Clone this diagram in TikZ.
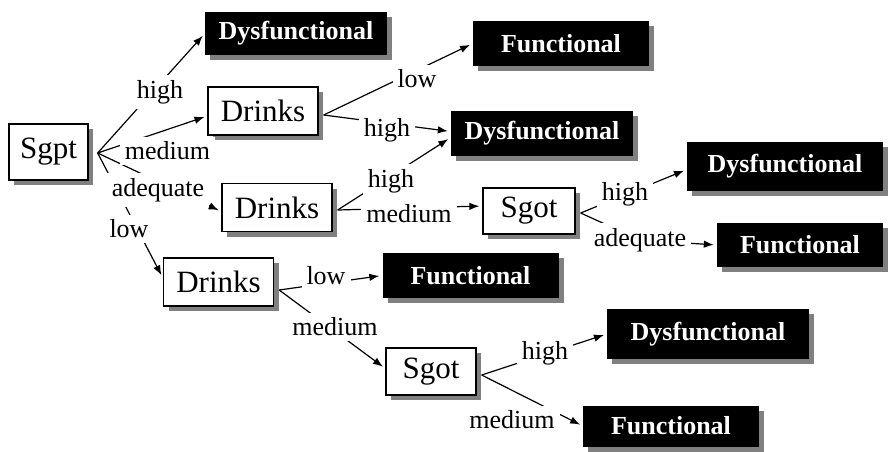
\documentclass[tikz,border=0pt]{standalone}
\usepackage{fontspec}
\setmainfont{Liberation Serif}
\newfontfamily\treefont{Liberation Serif}
\usepackage{tikz}
\usetikzlibrary{shadows, arrows.meta}
\pgfdeclarelayer{back}
\pgfsetlayers{back,main}

\begin{document}
\begin{tikzpicture}[x = 1pt, y = -1pt,
    boxshadow/.style = {drop shadow = {shadow xshift = 5pt, shadow yshift = -5pt, fill = black!50, opacity = 1}},
    attr/.style = {draw, line width = 1.3pt, fill = white, minimum width = 110pt, minimum height = 48pt, inner sep = 0pt, font = \treefont\fontsize{31}{36}\selectfont, boxshadow},
    leaf/.style = {fill = black, text = white, minimum height = 45pt, inner sep = 0pt, font = \treefont\bfseries\fontsize{26}{30}\selectfont, boxshadow},
    dys/.style = {leaf, minimum width = 182pt},
    fun/.style = {leaf, minimum width = 176pt},
    val/.style = {fill = white, inner sep = 5pt, font = \treefont\fontsize{26}{30}\selectfont},
    branch/.style = {line width = 1.2pt, -{Latex[length = 10pt, width = 7.5pt]}, shorten >= 3pt}]
            \useasboundingbox (0,0) rectangle (888,451);
            \node[attr, minimum width = 79pt, minimum height = 56pt] (sgpt) at (48.5,152) {Sgpt};
            \node[dys, minimum height = 43pt] (dys1) at (296,33.5) {Dysfunctional};
            \node[attr] (drk1) at (263,111) {Drinks};
            \node[attr] (drk2) at (277,207.5) {Drinks};
            \node[attr] (drk3) at (218.5,282) {Drinks};
            \node[fun] (fun1) at (561,43.5) {Functional};
            \node[dys] (dys2) at (542,133.5) {Dysfunctional};
            \node[attr, minimum width = 92pt, minimum height = 46pt] (sgot1) at (529,211) {Sgot};
            \node[dys, minimum width = 196pt, minimum height = 49pt] (dys3) at (785,166.5) {Dysfunctional};
            \node[fun, minimum width = 166pt, minimum height = 44pt] (fun2) at (800,245) {Functional};
            \node[fun] (fun3) at (470.5,275.5) {Functional};
            \node[attr, minimum width = 90pt, minimum height = 47pt] (sgot2) at (431,371.5) {Sgot};
            \node[dys, minimum width = 202pt, minimum height = 50pt] (dys4) at (708,334) {Dysfunctional};
            \node[fun, minimum height = 41pt] (fun4) at (671,426) {Functional};
            \node[val] (sh) at (160,92) {high};
            \node[val] (sm) at (167.5,151) {medium};
            \node[val] (sa) at (158,190) {adequate};
            \node[val] (sl) at (129,229) {low};
            \node[val] (d1l) at (417,79) {low};
            \node[val] (d1h) at (387,130) {high};
            \node[val] (d2h) at (391,181) {high};
            \node[val] (d2m) at (409,214) {medium};
            \node[val] (s1h) at (625,194) {high};
            \node[val] (s1a) at (640,240) {adequate};
            \node[val] (d3l) at (326,276) {low};
            \node[val] (d3m) at (335,327) {medium};
            \node[val] (s2h) at (545,353) {high};
            \node[val] (s2m) at (512,420) {medium};
            \begin{pgfonlayer}{back}
            \draw[branch] ([shift = {(9pt,-1pt)}]sgpt.east) -- (dys1.west);
            \draw[branch] ([shift = {(9pt,-1pt)}]sgpt.east) -- ([yshift = -5pt]drk1.west);
            \draw[branch] ([shift = {(9pt,-1pt)}]sgpt.east) -- ([yshift = -4pt]drk2.west);
            \draw[branch] ([shift = {(9pt,-1pt)}]sgpt.east) -- ([yshift = 4pt]drk3.west);
            \draw[branch] ([shift = {(5pt,-4pt)}]drk1.east) -- (fun1.west);
            \draw[branch] ([shift = {(5pt,-4pt)}]drk1.east) -- ([yshift = 2pt]dys2.west);
            \draw[branch] ([shift = {(5pt,-2.5pt)}]drk2.east) -- ([yshift = -4pt]dys2.west);
            \draw[branch] ([shift = {(5pt,-2.5pt)}]drk2.east) -- ([yshift = 5pt]sgot1.west);
            \draw[branch] ([shift = {(5pt,-2pt)}]sgot1.east) -- ([yshift = -3pt]dys3.west);
            \draw[branch] ([shift = {(5pt,-2pt)}]sgot1.east) -- (s1a.center) -- (fun2.west);
            \draw[branch] ([shift = {(5pt,-8pt)}]drk3.east) -- (fun3.west);
            \draw[branch] ([shift = {(5pt,-8pt)}]drk3.east) -- ([yshift = 3pt]sgot2.west);
            \draw[branch] ([shift = {(5pt,-3.5pt)}]sgot2.east) -- (dys4.west);
            \draw[branch] ([shift = {(5pt,-3.5pt)}]sgot2.east) -- (fun4.west);
            \end{pgfonlayer}
        \end{tikzpicture}
\end{document}
